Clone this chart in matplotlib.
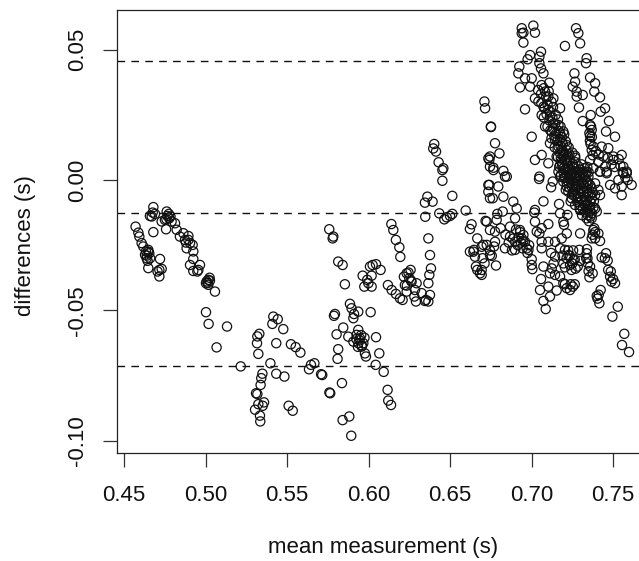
"""Bland-Altman style scatter of paired timing measurements."""
import matplotlib
matplotlib.use("Agg")
import matplotlib.pyplot as plt

plt.rcParams["font.family"] = ["Liberation Sans", "DejaVu Sans"]

# limits of agreement: upper, mean difference, lower
LOA_LINES = [0.0457, -0.0128, -0.0713]
X_TICKS = [0.45, 0.50, 0.55, 0.60, 0.65, 0.70, 0.75]
Y_TICKS = [-0.10, -0.05, 0.00, 0.05]

# fast trials
mean_a = [.4571, .4588, .4594, .4608, .4618, .4635, .4649, .4629, .4639, .4655, .4649, .4721, .4731, .4717, .4706, .4717,
          .4680, .4676, .4670, .4659, .4690, .4680, .4731, .4762, .4766, .4758, .4751, .4778, .4792, .4813, .4823, .4843,
          .4864, .4874, .4895, .4905, .4921, .4884, .4925, .4925, .4966, .4905, .4925, .4956, .4950, .5017, .5007, .5027,
          .5017, .5003, .5058]
diff_a = [-.0179, -.0202, -.0217, -.0242, -.0255, -.0274, -.0268, -.0287, -.0300, -.0281, -.0338, -.0303, -.0341, -.0345, -.0351, -.0370,
          -.0104, -.0125, -.0140, -.0138, -.0130, -.0200, -.0159, -.0121, -.0138, -.0189, -.0153, -.0147, -.0159, -.0166, -.0191, -.0217,
          -.0204, -.0230, -.0230, -.0242, -.0249, -.0262, -.0274, -.0303, -.0326, -.0326, -.0349, -.0345, -.0351, -.0383, -.0389, -.0386,
          -.0402, -.0396, -.0428]

mean_b = [.5003, .5019, .5132, .5068, .5216, .5330, .5318, .5316, .5324, .5416, .5443, .5410, .5477, .5434, .5524, .5553,
          .5582, .5398, .5434, .5484, .5668, .5647, .5635, .5709, .5760, .5349, .5342, .5338, .5310, .5318, .5324, .5359,
          .5351, .5304, .5334, .5336, .5510, .5535]
diff_b = [-.0507, -.0552, -.0562, -.0642, -.0715, -.0590, -.0600, -.0626, -.0667, -.0524, -.0534, -.0552, -.0572, -.0626, -.0630, -.0641,
          -.0662, -.0703, -.0743, -.0754, -.0703, -.0709, -.0726, -.0745, -.0815, -.0743, -.0760, -.0786, -.0818, -.0821, -.0860, -.0853,
          -.0866, -.0881, -.0904, -.0926, -.0866, -.0885]

# middle of the range
mean_c = [.5759, .5780, .5784, .5814, .5841, .5855, .5964, .6009, .6025, .6046, .6074, .6019, .5992, .5999, .5974, .6019,
          .6119, .6142, .6168, .6193, .6209, .6217, .6234, .6258, .6250, .6223, .6264, .6295, .6285, .6234, .6281, .6326,
          .6291, .6352, .6377, .6367, .6346, .6140, .6152, .6168, .6189, .6195, .6367, .6377, .6383, .6373, .6367, .6403,
          .6397, .6414, .6430, .6459, .6453, .6453, .6514, .6361, .6346, .6393, .6348, .6434, .6465, .6479, .6500, .6514,
          .6596, .6632, .6622, .6667, .6718, .6704, .6622, .6643, .6653, .6647, .6659, .6667, .6684, .6745, .6745, .6735,
          .6745, .6735, .6735, .6745]
diff_c = [-.0189, -.0224, -.0217, -.0313, -.0326, -.0400, -.0367, -.0332, -.0326, -.0323, -.0345, -.0367, -.0383, -.0396, -.0409, -.0409,
          -.0403, -.0422, -.0437, -.0454, -.0460, -.0371, -.0358, -.0345, -.0377, -.0403, -.0390, -.0396, -.0422, -.0428, -.0447, -.0434,
          -.0466, -.0460, -.0441, -.0466, -.0464, -.0169, -.0192, -.0230, -.0258, -.0295, -.0224, -.0288, -.0339, -.0364, -.0396, .0138,
          .0121, .0109, .0068, .0045, .0038, -.0003, -.0061, -.0064, -.0087, -.0083, -.0141, -.0128, -.0151, -.0143, -.0138, -.0130,
          -.0117, -.0170, -.0188, -.0224, -.0157, -.0249, -.0275, -.0275, -.0294, -.0268, -.0332, -.0345, -.0358, -.0288, -.0192, .0083,
          .0051, -.0019, -.0045, -.0070]

mean_d = [.5886, .5896, .5911, .5937, .5907, .6013, .5794, .5788, .5845, .5804, .5876, .5937, .5927, .5947, .5907, .5937,
          .5968, .5958, .6046, .5978, .5984, .6066, .5814, .5810, .6044, .6093, .5716, .5837, .5765, .6117, .6121, .6138,
          .5841, .5882, .5894]
diff_d = [-.0475, -.0492, -.0514, -.0505, -.0530, -.0507, -.0514, -.0521, -.0566, -.0592, -.0601, -.0575, -.0594, -.0607, -.0620, -.0626,
          -.0626, -.0639, -.0603, -.0665, -.0677, -.0665, -.0649, -.0686, -.0709, -.0736, -.0748, -.0779, -.0818, -.0805, -.0846, -.0863,
          -.0921, -.0907, -.0981]

# slow trials, upper half
mean_e = [.6940, .6940, .6950, .6950, .7011, .7021, .7273, .7287, .7298, .7205, .7058, .7048, .6991, .6976, .6925, .6919,
          .7048, .7058, .7073, .6960, .6929, .6991, .7001, .7109, .7062, .7083, .7021, .7042, .7103, .7134, .7073, .7103,
          .7175, .7062, .7113, .6960, .7083, .7134, .7165, .7175, .7124, .7195, .7001, .7144, .7185, .7113, .7216, .6776,
          .6803, .6745, .6741, .6766, .6827, .6848, .6711, .6715, .6751, .6751, .7338, .7334, .7263, .7267, .7253, .7277,
          .7277, .7314, .7291, .7359, .7390, .7385, .7420, .7451, .7424, .7475, .7363, .7314, .7359, .7369, .7359, .7457,
          .7512, .7379, .7430, .7471, .7369, .7267, .7502, .7553, .7502, .7563, .7584, .7359, .7410, .7451, .7461, .7379,
          .7420, .7048, .7021, .7062, .7103]
diff_e = [.0582, .0563, .0565, .0527, .0592, .0565, .0582, .0563, .0524, .0514, .0492, .0473, .0479, .0463, .0435, .0409,
          .0448, .0428, .0409, .0390, .0355, .0358, .0390, .0373, .0364, .0339, .0313, .0301, .0320, .0313, .0281, .0269,
          .0275, .0249, .0243, .0271, .0205, .0217, .0211, .0179, .0186, .0186, .0166, .0154, .0147, .0141, .0134, .0141,
          .0102, .0090, .0077, .0047, .0035, .0013, .0301, .0275, .0205, .0203, .0467, .0448, .0409, .0377, .0358, .0339,
          .0320, .0326, .0278, .0393, .0371, .0339, .0317, .0275, .0262, .0226, .0249, .0226, .0211, .0192, .0169, .0186,
          .0166, .0128, .0128, .0122, .0115, .0093, .0090, .0096, .0077, .0051, .0026, .0077, .0070, .0051, .0032, .0045,
          .0032, .0013, .0077, .0096, .0064]

# the dense band
mean_f = [.7165, .7185, .7175, .7195, .7205, .7185, .7216, .7226, .7195, .7236, .7257, .7246, .7277, .7298, .7318, .7216,
          .7267, .7226, .7154, .7175, .7165, .7195, .7226, .7257, .7287, .7318, .7338, .7175, .7205, .7236, .7267, .7298,
          .7328, .7349, .7195, .7226, .7257, .7287, .7318, .7349, .7216, .7246, .7277, .7308, .7338, .7369, .7226, .7257,
          .7287, .7318, .7349, .7246, .7277, .7308, .7338, .7369, .7267, .7298, .7328, .7359, .7390, .7298, .7328, .7369,
          .7338, .7369, .7400]
diff_f = [.0128, .0115, .0102, .0090, .0077, .0070, .0064, .0051, .0045, .0039, .0045, .0026, .0026, .0039, .0019, .0019,
          .0007, .0090, .0090, .0058, .0032, .0032, .0032, .0032, .0032, .0032, .0032, .0013, .0013, .0013, .0013, .0013,
          .0006, .0013, -.0006, -.0006, -.0006, -.0006, -.0013, -.0013, -.0025, -.0025, -.0025, -.0032, -.0032, -.0032, -.0045, -.0045,
          -.0051, -.0051, -.0051, -.0070, -.0070, -.0077, -.0077, -.0070, -.0096, -.0096, -.0096, -.0102, -.0109, -.0115, -.0121, -.0128,
          -.0147, -.0147, -.0121]

# slow trials, lower half
mean_g = [.7046, .7120, .7130, .7073, .7169, .7021, .7017, .7175, .7220, .7195, .7199, .7103, .7021, .7032, .7062, .7048,
          .7216, .7298, .7379, .7410, .7390, .7369, .7420, .7390, .7410, .7390, .7420, .7482, .7533, .7553, .7614, .7553,
          .7512, .7563, .7461, .7420, .7584, .6766, .6837, .6741, .6796, .6762, .6827, .6888, .6909, .6823, .6725, .6786,
          .6899, .6868, .6929, .6776, .6950, .6940, .6960, .6868, .6776, .6899, .6837, .6899, .6970, .6981, .6725, .6694,
          .6756, .6782, .6694, .6694, .7001, .7001, .7005, .7073, .7062, .7062, .7103, .7144, .7185, .7175, .7144, .7205,
          .7226, .7257, .7236, .7195, .7283, .7124, .7113, .7144, .7058, .7052, .7103, .7154, .7195, .7216, .7253, .7236,
          .7113, .7073, .7087, .7293, .7338, .7343, .7359, .7375, .7355, .7430, .7457, .7467, .7486, .7482, .7512, .7424,
          .7400, .7416, .7529, .7496, .7569, .7555, .7598]
diff_g = [.0004, -.0028, -.0006, -.0082, -.0092, -.0115, -.0125, -.0128, -.0134, -.0160, -.0172, -.0169, -.0160, -.0198, -.0185, -.0205,
          -.0205, -.0205, -.0192, -.0205, -.0224, -.0224, -.0234, -.0013, -.0038, -.0058, -.0058, -.0019, .0000, -.0025, -.0019, -.0058,
          -.0032, .0026, .0026, .0032, .0032, .0038, .0013, -.0019, -.0025, -.0070, -.0064, -.0083, -.0109, -.0121, -.0160, -.0153,
          -.0147, -.0179, -.0192, -.0198, -.0211, -.0224, -.0237, -.0217, -.0237, -.0237, -.0262, -.0268, -.0262, -.0268, -.0249, -.0256,
          -.0291, -.0328, -.0345, -.0364, -.0304, -.0326, -.0342, -.0332, -.0237, -.0262, -.0237, -.0237, -.0224, -.0262, -.0294, -.0268,
          -.0288, -.0307, -.0326, -.0320, -.0332, -.0339, -.0358, -.0364, -.0380, -.0422, -.0409, -.0424, -.0396, -.0415, -.0409, -.0422,
          -.0447, -.0464, -.0495, -.0268, -.0281, -.0300, -.0332, -.0358, -.0373, -.0297, -.0281, -.0309, -.0351, -.0371, -.0396, -.0422,
          -.0445, -.0473, -.0486, -.0524, -.0590, -.0633, -.0660]

# more of the dense band, where single circles can't be told apart
mean_h = [.7040, .7058, .7075, .7090, .7105, .7122, .7060, .7080, .7098, .7115, .7132, .7148, .7075, .7092, .7110, .7128,
          .7145, .7162, .7178, .7098, .7115, .7132, .7150, .7168, .7185, .7200, .7122, .7140, .7158, .7175, .7192, .7210,
          .7228, .7142, .7160, .7178, .7196, .7214, .7232, .7250, .7268, .7162, .7180, .7198, .7216, .7234, .7252, .7270,
          .7288, .7306, .7324, .7342, .7170, .7188, .7206, .7224, .7242, .7260, .7278, .7296, .7314, .7332, .7350, .7180,
          .7198, .7216, .7234, .7252, .7270, .7288, .7306, .7324, .7342, .7360, .7210, .7232, .7250, .7268, .7286, .7304,
          .7322, .7340, .7358, .7376, .7240, .7262, .7282, .7300, .7320, .7342, .7362, .7382, .7295, .7315, .7340, .7360,
          .7380, .7310, .7345, .7362, .7352]
diff_h = [.0345, .0330, .0352, .0318, .0340, .0300, .0295, .0275, .0290, .0262, .0280, .0250, .0240, .0252, .0228, .0240,
          .0215, .0232, .0205, .0205, .0190, .0198, .0178, .0188, .0165, .0175, .0160, .0168, .0150, .0155, .0138, .0148,
          .0125, .0125, .0118, .0130, .0108, .0115, .0098, .0105, .0085, .0088, .0082, .0095, .0072, .0078, .0062, .0068,
          .0052, .0060, .0045, .0050, .0050, .0058, .0038, .0042, .0022, .0052, .0018, .0012, .0028, .0020, .0030, .0018,
          .0008, -.0012, .0002, -.0018, -.0002, -.0020, -.0010, -.0022, -.0006, -.0020, -.0038, -.0030, -.0056, -.0036, -.0062, -.0042,
          -.0064, -.0044, -.0060, -.0048, -.0082, -.0060, -.0085, -.0070, -.0090, -.0094, -.0085, -.0082, -.0108, -.0110, -.0115, -.0118,
          -.0105, -.0135, -.0135, -.0140, -.0158]

# repeats inside the darker clumps
mean_i = [.7358, .7362, .7365, .7355, .7370, .7375, .7395, .7412, .7440, .7468, .7490, .7510, .7535, .7545, .7560, .7575,
          .7590, .6920, .6935, .6950, .6915, .6945, .6930, .6885, .6905, .6975, .6985, .6790, .6810, .6840, .6860, .6880,
          .6745, .6770, .6700, .6712, .7215, .7235, .7250, .7265, .7270, .7245, .7225, .7190, .7205, .7255, .7300, .7120,
          .7135, .7175, .7205, .7240, .7265, .7335, .7345, .7350, .7340, .7450, .7470, .7490, .7500, .7412, .7405, .7390,
          .7375, .7385, .5975, .5945, .5955, .5925, .5960, .5935, .4650, .4640, .4660, .4645, .5015, .5025, .4895, .4880,
          .4775, .4760, .4785, .6260, .6245, .6235]
diff_i = [.0150, .0138, .0205, .0180, .0165, .0095, .0110, .0098, .0090, .0085, .0060, .0050, .0080, .0055, .0030, .0010,
          .0000, -.0220, -.0240, -.0235, -.0250, -.0262, -.0200, -.0225, -.0190, -.0280, -.0250, -.0130, -.0185, -.0210, -.0240, -.0270,
          -.0270, -.0255, -.0300, -.0320, -.0300, -.0290, -.0320, -.0305, -.0340, -.0345, -.0270, -.0290, -.0335, -.0270, -.0310, -.0280,
          -.0320, -.0370, -.0400, -.0400, -.0400, -.0300, -.0320, -.0350, -.0265, -.0300, -.0345, -.0390, -.0380, -.0440, -.0455, -.0200,
          -.0210, -.0185, -.0605, -.0615, -.0595, -.0610, -.0635, -.0640, -.0275, -.0290, -.0300, -.0310, -.0395, -.0375, -.0215, -.0240,
          -.0130, -.0150, -.0140, -.0385, -.0355, -.0405]

means = mean_a + mean_b + mean_c + mean_d + mean_e + mean_f + mean_g + mean_h + mean_i
diffs = diff_a + diff_b + diff_c + diff_d + diff_e + diff_f + diff_g + diff_h + diff_i


def main():
    fig = plt.figure(figsize=(6.39, 5.61), dpi=100)
    # right edge of the box is cut off by the picture, as in the original
    ax = fig.add_axes([116.5 / 639, (561 - 452.7) / 561, 543.5 / 639, 442.7 / 561])
    ax.scatter(means, diffs, s=44, facecolors="none", edgecolors="#111111", linewidths=0.9, zorder=3)
    for level in LOA_LINES:
        ax.axhline(level, color="#111111", linewidth=1.0, linestyle=(0, (5.5, 4.5)), zorder=2)

    ax.set_xlim(0.4454, 0.7788)
    ax.set_ylim(-0.1046, 0.0652)
    ax.set_xticks(X_TICKS, [f"{x:.2f}" for x in X_TICKS])
    ax.set_yticks(Y_TICKS, [f"{y:.2f}" for y in Y_TICKS])
    ax.tick_params(axis="both", length=10, width=0.9, color="#333333", labelsize=16, labelcolor="#111111")
    ax.tick_params(axis="x", pad=13)
    ax.tick_params(axis="y", pad=10.5)
    for label in ax.get_yticklabels():
        label.set_rotation(90)
        label.set_va("center")
    for spine in ax.spines.values():
        spine.set_linewidth(0.9)
        spine.set_color("#222222")

    fig.text(383 / 639, 1 - 548 / 561, "mean measurement (s)", ha="center", va="center", fontsize=16, color="#111111")
    fig.text(26 / 639, 1 - 246 / 561, "differences (s)", ha="center", va="center", rotation=90, fontsize=16, color="#111111")

    fig.savefig("out.png", dpi=100)
    plt.close(fig)


if __name__ == "__main__":
    main()
